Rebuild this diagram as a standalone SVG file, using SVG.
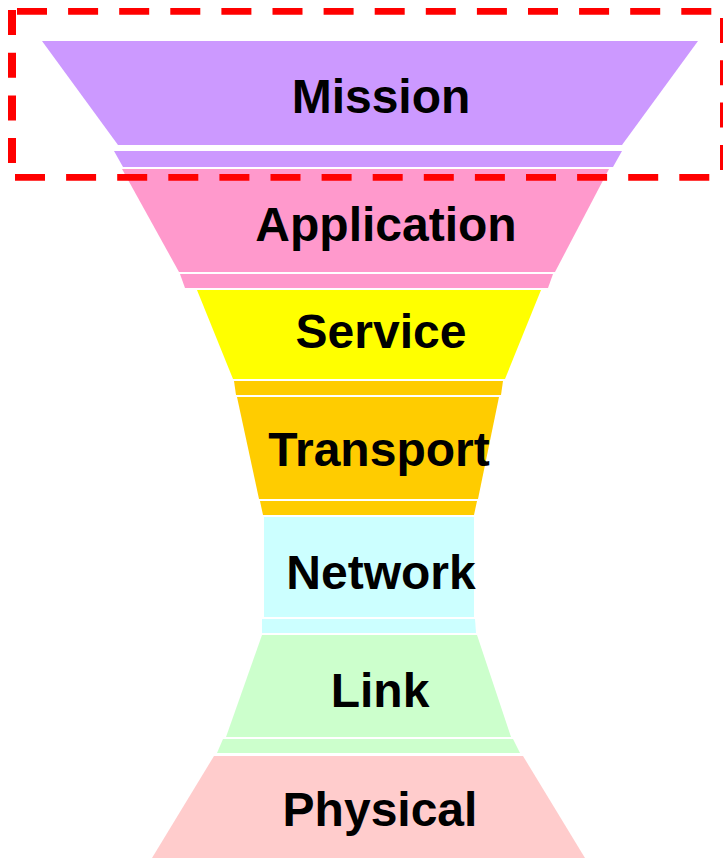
<svg xmlns="http://www.w3.org/2000/svg" width="723" height="858" viewBox="0 0 723 858">
<style>
.lbl{font-family:"Liberation Sans",Arial,sans-serif;font-weight:bold;font-size:48px;fill:#000;text-anchor:middle}
.dash{stroke:#FF0000;fill:none}
</style>
<rect width="723" height="858" fill="#fff"/>
<g id="mission">
<polygon points="42,41 698,41 622,145 118,145" fill="#CC99FF"/>
<polygon points="114,151 622,151 613,167 123,167" fill="#CC99FF"/>
<text class="lbl" x="381" y="113">Mission</text>
</g>
<g id="application">
<polygon points="122,169 609,169 555,272 179,272" fill="#FF99CC"/>
<polygon points="180,274 553,274 548,288 185,288" fill="#FF99CC"/>
<text class="lbl" x="386" y="241">Application</text>
</g>
<g id="service">
<polygon points="197,290 541,290 505,379 233,379" fill="#FFFF00"/>
<polygon points="234,381 503,381 501,395 236,395" fill="#FFCC00"/>
<text class="lbl" x="381" y="348">Service</text>
</g>
<g id="transport">
<polygon points="237,397 499,397 478,499 259,499" fill="#FFCC00"/>
<polygon points="260,501 477,501 474,515 263,515" fill="#FFCC00"/>
<text class="lbl" x="379" y="466">Transport</text>
</g>
<g id="network">
<polygon points="264,517 474,517 474,617 264,617" fill="#CCFFFF"/>
<polygon points="262,619 475,619 476,633 262,633" fill="#CCFFFF"/>
<text class="lbl" x="381" y="589">Network</text>
</g>
<g id="link">
<polygon points="262,635 477,635 511,737 226,737" fill="#CCFFCC"/>
<polygon points="223,739 513,739 520,753 217,753" fill="#CCFFCC"/>
<text class="lbl" x="380" y="707">Link</text>
</g>
<g id="physical">
<polygon points="214,756 523,756 585,858 152,858" fill="#FFCCCC"/>
<text class="lbl" x="380" y="826">Physical</text>
</g>
<g id="connectors">
<g id="focus-box">
<line class="dash" x1="17" y1="11.3" x2="715" y2="11.3" stroke-width="6.7" stroke-dasharray="30 21.1"/>
<line class="dash" x1="15" y1="177.3" x2="715" y2="177.3" stroke-width="6.7" stroke-dasharray="30 21.1"/>
<line class="dash" x1="12" y1="10" x2="12" y2="163" stroke-width="8" stroke-dasharray="25 17.7"/>
<line class="dash" x1="724" y1="18" x2="724" y2="171" stroke-width="8" stroke-dasharray="25 17.3"/>
</g>
</g>
</svg>
